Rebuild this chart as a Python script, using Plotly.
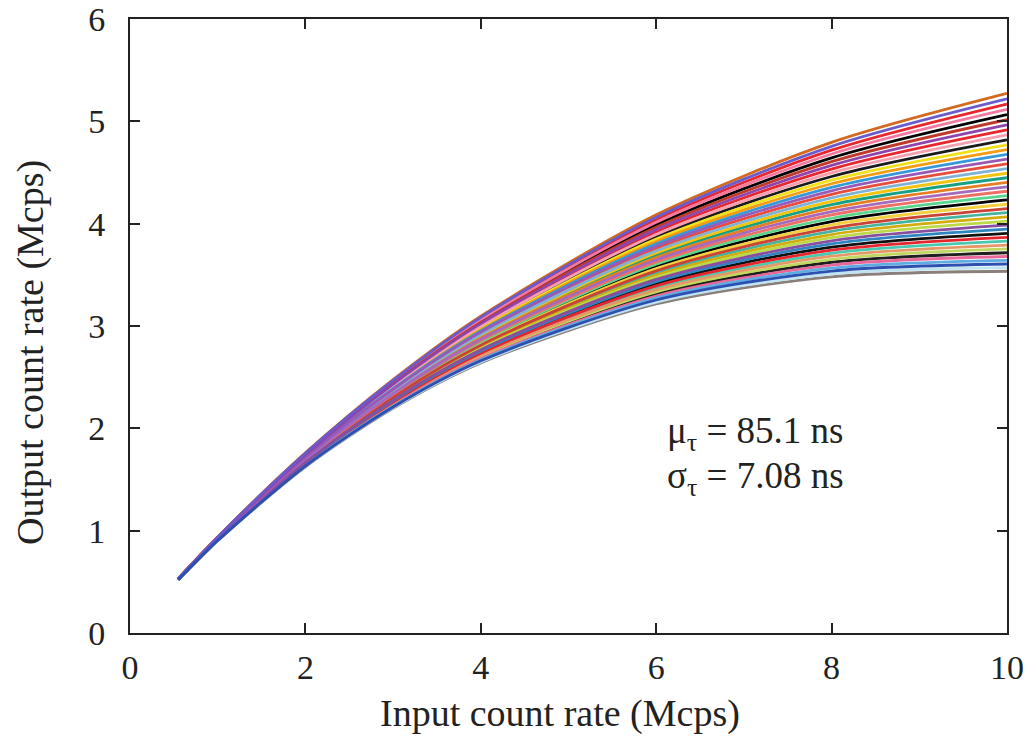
import plotly.graph_objects as go

# Input count rate grid (Mcps) at which every curve was read
input_rate = [0.55, 1, 2, 3, 4, 6, 8, 10]

# Output count rate (Mcps) of each of the 41 simulated detectors, one array per input rate
out_at_0p55 = [0.531, 0.531, 0.530, 0.530, 0.530, 0.530, 0.529, 0.529, 0.529, 0.528, 0.528,
               0.528, 0.527, 0.527, 0.527, 0.526, 0.526, 0.526, 0.526, 0.525, 0.525, 0.525,
               0.524, 0.524, 0.524, 0.523, 0.523, 0.523, 0.523, 0.522, 0.522, 0.522, 0.521,
               0.521, 0.521, 0.520, 0.520, 0.520, 0.520, 0.519, 0.519]
out_at_1 = [0.938, 0.937, 0.936, 0.935, 0.934, 0.933, 0.932, 0.931, 0.931, 0.930, 0.929,
            0.928, 0.927, 0.926, 0.925, 0.924, 0.923, 0.922, 0.921, 0.920, 0.919, 0.919,
            0.918, 0.917, 0.916, 0.915, 0.914, 0.913, 0.912, 0.911, 0.910, 0.909, 0.908,
            0.908, 0.907, 0.906, 0.905, 0.904, 0.903, 0.902, 0.901]
out_at_2 = [1.760, 1.756, 1.753, 1.749, 1.746, 1.742, 1.739, 1.735, 1.732, 1.728, 1.725,
            1.721, 1.718, 1.715, 1.711, 1.708, 1.704, 1.701, 1.697, 1.694, 1.691, 1.687,
            1.684, 1.681, 1.677, 1.674, 1.671, 1.667, 1.664, 1.661, 1.657, 1.654, 1.651,
            1.647, 1.644, 1.641, 1.637, 1.634, 1.631, 1.628, 1.624]
out_at_3 = [2.476, 2.468, 2.461, 2.454, 2.446, 2.439, 2.432, 2.424, 2.417, 2.410, 2.403,
            2.396, 2.388, 2.381, 2.374, 2.367, 2.360, 2.353, 2.346, 2.339, 2.332, 2.325,
            2.318, 2.311, 2.304, 2.297, 2.290, 2.283, 2.276, 2.270, 2.263, 2.256, 2.249,
            2.243, 2.236, 2.229, 2.222, 2.216, 2.209, 2.203, 2.196]
out_at_4 = [3.096, 3.084, 3.072, 3.060, 3.047, 3.035, 3.023, 3.011, 2.999, 2.987, 2.975,
            2.963, 2.952, 2.940, 2.928, 2.916, 2.905, 2.893, 2.882, 2.870, 2.858, 2.847,
            2.836, 2.824, 2.813, 2.802, 2.791, 2.780, 2.768, 2.757, 2.746, 2.735, 2.725,
            2.714, 2.703, 2.692, 2.681, 2.671, 2.660, 2.649, 2.639]
out_at_6 = [4.087, 4.062, 4.038, 4.014, 3.990, 3.966, 3.942, 3.919, 3.895, 3.872, 3.849,
            3.826, 3.803, 3.780, 3.758, 3.735, 3.713, 3.691, 3.669, 3.647, 3.625, 3.603,
            3.581, 3.560, 3.539, 3.518, 3.496, 3.476, 3.455, 3.434, 3.414, 3.393, 3.373,
            3.353, 3.333, 3.313, 3.293, 3.273, 3.254, 3.234, 3.215]
out_at_8 = [4.794, 4.756, 4.718, 4.681, 4.643, 4.606, 4.570, 4.533, 4.497, 4.461, 4.426,
            4.390, 4.355, 4.321, 4.286, 4.252, 4.218, 4.185, 4.151, 4.118, 4.085, 4.053,
            4.021, 3.989, 3.957, 3.925, 3.894, 3.863, 3.832, 3.802, 3.771, 3.741, 3.711,
            3.682, 3.652, 3.623, 3.595, 3.566, 3.537, 3.509, 3.481]
out_at_10 = [5.273, 5.220, 5.169, 5.117, 5.066, 5.016, 4.966, 4.916, 4.868, 4.819, 4.771,
             4.724, 4.677, 4.630, 4.584, 4.538, 4.493, 4.449, 4.404, 4.360, 4.317, 4.274,
             4.232, 4.190, 4.148, 4.107, 4.066, 4.025, 3.985, 3.946, 3.906, 3.867, 3.829,
             3.791, 3.753, 3.716, 3.679, 3.642, 3.606, 3.570, 3.535]

x_ticks = [0, 2, 4, 6, 8, 10]
y_ticks = [0, 1, 2, 3, 4, 5, 6]
x_title = "Input count rate (Mcps)"
y_title = "Output count rate (Mcps)"
stat_lines = ["\u03bc<sub>\u03c4</sub> = 85.1 ns", "\u03c3<sub>\u03c4</sub> = 7.08 ns"]

# styles
curve_colors = ["#d2691e", "#6a5acd", "#e8262d", "#f07aa0", "#000000", "#c0392b", "#8e44ad",
                "#e8262d", "#f4a0b0", "#1a1a1a", "#f2e11a", "#f39c12", "#3498db", "#9b59b6",
                "#e74c3c", "#7fb3d5", "#f1c40f", "#16a085", "#e67e22", "#a569bd", "#ec7063",
                "#58d68d", "#000000", "#f4d03f", "#cb4335", "#45b39d", "#d4ac0d", "#bcd94a",
                "#884ea0", "#2e86c1", "#111111", "#e6262e", "#48c9b0", "#e59866", "#c0d860",
                "#1f1f1f", "#e8689a", "#5dade2", "#2c4fb0", "#bfe3f0", "#8a7f7a"]
draw_order = [4, 22, 9, 30, 35, 17, 25, 32, 10, 16, 23, 26, 27, 34, 21, 11, 18, 33, 2, 7,
              14, 24, 31, 20, 36, 3, 8, 0, 5, 40, 39, 15, 37, 12, 29, 19, 28, 13, 6, 1, 38]

columns = [out_at_0p55, out_at_1, out_at_2, out_at_3, out_at_4, out_at_6, out_at_8, out_at_10]
serif = "Liberation Serif, Times New Roman, serif"
ink = "#222"

fig = go.Figure()
for i in draw_order:
    fig.add_trace(go.Scatter(
        x=input_rate,
        y=[col[i] for col in columns],
        mode="lines",
        line=dict(color=curve_colors[i], width=2.8, shape="spline", smoothing=0.8),
        showlegend=False,
        hoverinfo="skip",
    ))

for k, txt in enumerate(stat_lines):
    fig.add_annotation(x=6.1, y=1.95 - 0.44 * k, xref="x", yref="y", text=txt,
                       showarrow=False, xanchor="left", yanchor="middle",
                       font=dict(family=serif, size=37, color=ink))

fig.add_annotation(x=0.49, y=-0.131, xref="paper", yref="paper", text=x_title,
                   showarrow=False, xanchor="center", yanchor="middle",
                   font=dict(family=serif, size=38, color=ink))
fig.add_annotation(x=-0.114, y=0.456, xref="paper", yref="paper", text=y_title,
                   textangle=-90, showarrow=False, xanchor="center", yanchor="middle",
                   font=dict(family=serif, size=38, color=ink))

axis_common = dict(showline=True, linewidth=2, linecolor=ink, mirror="ticks",
                   ticks="inside", ticklen=10, tickwidth=2, tickcolor=ink,
                   showgrid=False, zeroline=False, ticklabeloverflow="allow",
                   automargin=False,
                   tickfont=dict(family=serif, size=34, color=ink))

fig.update_layout(
    width=1029, height=736,
    margin=dict(l=130, r=22, t=19, b=103),
    paper_bgcolor="white", plot_bgcolor="white",
    xaxis=dict(range=[0, 10], tickvals=x_ticks, ticklabelstandoff=3, **axis_common),
    yaxis=dict(range=[0, 6.0001], tickvals=y_ticks, ticklabelstandoff=16, **axis_common),
)

fig.write_html("out.html")
